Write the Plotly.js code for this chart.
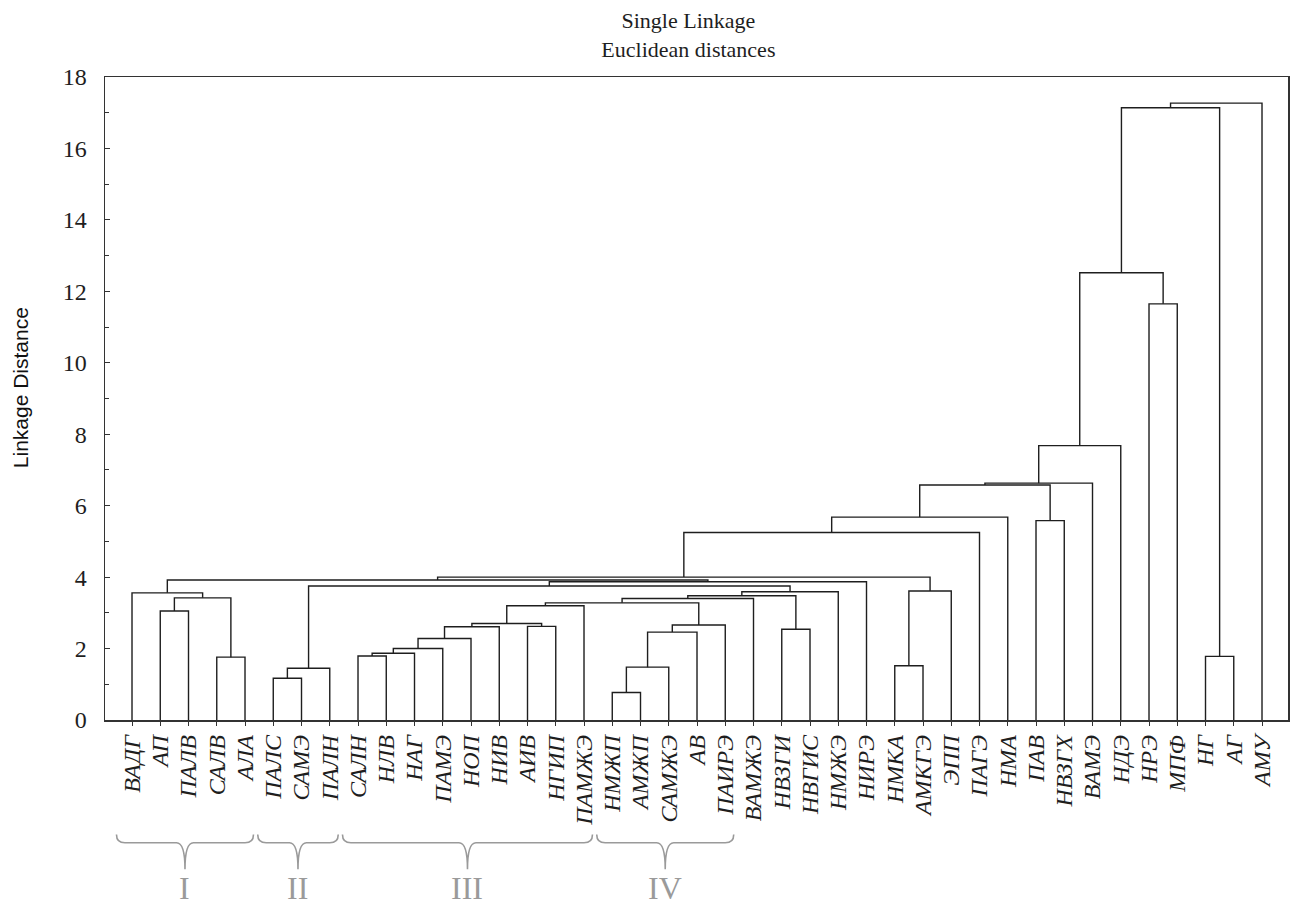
<!DOCTYPE html>
<html><head><meta charset="utf-8">
<script src="https://cdn.plot.ly/plotly-3.0.1.min.js"></script>
<style>html,body{margin:0;padding:0;background:#fff}</style>
</head><body>
<div id="chart" style="width:1294px;height:913px"></div>
<script>
// Leaves in dendrogram order (left to right)
const leafLabels = ['ВАДГ','АП','ПАЛВ','САЛВ','АЛА','ПАЛС','САМЭ','ПАЛН','САЛН','НЛВ',
  'НАГ','ПАМЭ','НОП','НИВ','АИВ','НГИП','ПАМЖЭ','НМЖП','АМЖП','САМЖЭ',
  'АВ','ПАИРЭ','ВАМЖЭ','НВЗГИ','НВГИС','НМЖЭ','НИРЭ','НМКА','АМКГЭ','ЭПП',
  'ПАГЭ','НМА','ПАВ','НВЗГХ','ВАМЭ','НДЭ','НРЭ','МПФ','НГ','АГ','АМУ'];

// Single-linkage merges: node ids 0..40 are leaves, merge k creates node 41+k
const mergeA = [17, 5, 42, 41, 27, 3, 38, 8, 48, 49, 50, 44, 23, 51, 14, 52, 54, 1, 57, 59,
  60, 58, 61, 0, 63, 45, 43, 67, 64, 69, 70, 32, 71, 73, 74, 75, 36, 76, 78, 79];
const mergeB = [18, 6, 7, 19, 28, 4, 39, 9, 10, 11, 12, 20, 24, 13, 15, 21, 55, 2, 16, 56,
  22, 46, 53, 62, 25, 29, 65, 26, 68, 66, 30, 33, 31, 72, 34, 35, 37, 77, 47, 40];
const mergeHeight = [0.77, 1.17, 1.45, 1.48, 1.52, 1.76, 1.78, 1.79, 1.87, 2.00, 2.28, 2.46, 2.54, 2.61, 2.62, 2.66, 2.70, 3.05, 3.20, 3.28,
  3.40, 3.42, 3.48, 3.56, 3.59, 3.61, 3.75, 3.87, 3.92, 4.00, 5.25, 5.58, 5.68, 6.58, 6.63, 7.68, 11.65, 12.52, 17.14, 17.27];

// Cluster groups marked under the axis
const groupNames = ['I', 'II', 'III', 'IV'];
const groupFirstLeaf = [1, 6, 9, 18];
const groupLastLeaf = [5, 8, 17, 22];

const yTickVals = [0, 2, 4, 6, 8, 10, 12, 14, 16, 18];

// ---- build dendrogram segments from merges ----
const n = leafLabels.length;
const nodeX = [], nodeH = [];
for (let i = 0; i < n; i++) { nodeX.push(i + 1); nodeH.push(0); }
const xs = [], ys = [];
for (let k = 0; k < mergeA.length; k++) {
  const a = mergeA[k], b = mergeB[k], h = mergeHeight[k];
  xs.push(nodeX[a], nodeX[a], nodeX[b], nodeX[b], null);
  ys.push(nodeH[a], h, h, nodeH[b], null);
  nodeX.push((nodeX[a] + nodeX[b]) / 2);
  nodeH.push(h);
}
const leafPos = leafLabels.map((_, i) => i + 1);

const trace = {
  type: 'scatter', mode: 'lines', x: xs, y: ys,
  line: {color: '#1e1e1e', width: 1.4, shape: 'linear'},
  hoverinfo: 'skip', showlegend: false
};

// ---- braces & group numerals ----
const braceColor = '#9a9a9a';
const yTop = -0.178, yMid = -0.191, yTip = -0.232;
const shapes = [], annotations = [];
for (let g = 0; g < groupNames.length; g++) {
  const xa = groupFirstLeaf[g] - 0.55, xb = groupLastLeaf[g] + 0.3;
  const xc = (xa + xb) / 2, d = 0.3;
  const path = `M ${xa},${yTop} Q ${xa},${yMid} ${xa + d},${yMid} L ${xc - d},${yMid} ` +
    `Q ${xc},${yMid} ${xc},${yTip} Q ${xc},${yMid} ${xc + d},${yMid} L ${xb - d},${yMid} ` +
    `Q ${xb},${yMid} ${xb},${yTop}`;
  shapes.push({type: 'path', xref: 'x', yref: 'paper', path: path,
    line: {color: braceColor, width: 1.6}});
  annotations.push({xref: 'x', yref: 'paper', x: xc, y: -0.262, text: groupNames[g],
    showarrow: false, xanchor: 'center', yanchor: 'middle',
    font: {family: 'Liberation Serif', size: 32, color: braceColor}});
}
// y-axis title as rotated annotation
annotations.push({xref: 'paper', yref: 'paper', x: 0, xshift: -85, y: 0.516,
  text: 'Linkage Distance', textangle: -90, showarrow: false,
  xanchor: 'center', yanchor: 'middle',
  font: {family: 'Liberation Sans', size: 21, color: '#111'}});

const xRange = [0.044, 41.92];
const layout = {
  width: 1294, height: 913,
  margin: {l: 105, r: 6, t: 77, b: 193},
  paper_bgcolor: '#ffffff', plot_bgcolor: '#ffffff',
  title: {
    text: 'Single Linkage<br>Euclidean distances',
    font: {family: 'Liberation Serif', size: 22, color: '#1e1e1e'},
    x: 0.532, xanchor: 'center', y: 0.969, yanchor: 'top', yref: 'container'
  },
  xaxis: {
    range: xRange, tickmode: 'array', tickvals: leafPos, ticktext: leafLabels,
    tickangle: -90, ticks: 'outside', ticklen: 4, tickcolor: '#333', tickwidth: 1,
    tickfont: {family: 'Liberation Serif', size: 24, style: 'italic', color: '#1e1e1e'},
    showline: true, linecolor: '#333', linewidth: 1.5, mirror: true,
    showgrid: false, zeroline: false, fixedrange: true
  },
  xaxis2: {
    overlaying: 'x', side: 'top', range: xRange, tickmode: 'array', tickvals: leafPos,
    ticks: 'inside', ticklen: 4, tickcolor: '#333', showticklabels: false,
    showline: false, showgrid: false, zeroline: false
  },
  yaxis: {
    range: [0, 18], tickmode: 'array', tickvals: yTickVals,
    ticks: 'inside', ticklen: 5, tickcolor: '#333', tickwidth: 1,
    minor: {dtick: 1, ticks: 'inside', ticklen: 4, tickcolor: '#333', showgrid: false},
    tickfont: {family: 'Liberation Serif', size: 24, color: '#1e1e1e'},
    ticklabelstandoff: 12,
    showline: true, linecolor: '#333', linewidth: 1.5, mirror: true,
    showgrid: false, zeroline: false, fixedrange: true
  },
  shapes: shapes,
  annotations: annotations
};

Plotly.newPlot('chart', [trace], layout, {displayModeBar: false, staticPlot: true});
</script>
</body></html>
